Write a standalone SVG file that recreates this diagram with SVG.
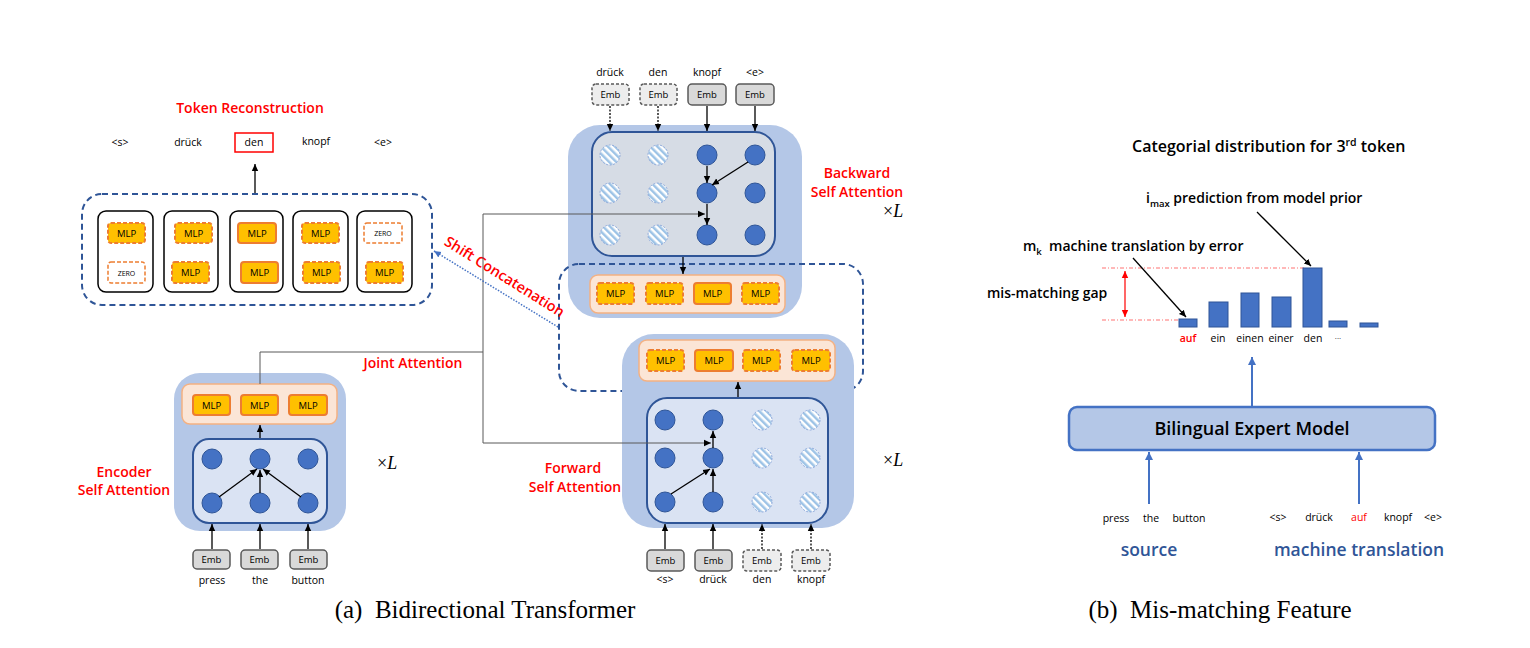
<svg xmlns="http://www.w3.org/2000/svg" width="1530" height="648" viewBox="0 0 1530 648">
<style>
text{font-family:"Open Sans","Liberation Sans",Arial,sans-serif;fill:#000}
.tok{font-size:10.5px;text-anchor:middle;font-weight:500}
.red{fill:#FF0000;font-size:14px;text-anchor:middle;font-weight:600}
.mlpt{font-size:9.5px;text-anchor:middle;font-weight:500}
.zt{font-size:7px;text-anchor:middle}
.mlp{fill:#FFC000;stroke:#ED7D31;stroke-width:2}
.mlpd{fill:#FFC000;stroke:#ED7D31;stroke-width:2;stroke-dasharray:4,2}
.zero{fill:#fff;stroke:#ED7D31;stroke-width:1.5;stroke-dasharray:4,2}
.bar{fill:#FBE5D6;stroke:#F4B183;stroke-width:1.5}
.outer{fill:#B4C7E7}
.inner{fill:#DAE3F3;stroke:#2F5597;stroke-width:2}
.innerg{fill:#D6DCE5;stroke:#2F5597;stroke-width:2}
.dot{fill:#4472C4;stroke:#2F5597;stroke-width:1}
.hat{fill:url(#hatch);stroke:#8FAADC;stroke-width:1;stroke-dasharray:2,1.5}
.emb{fill:#D9D9D9;stroke:#595959;stroke-width:1.5}
.embd{fill:#EDEDED;stroke:#595959;stroke-width:1.5;stroke-dasharray:3,2}
.embt{font-size:9.5px;text-anchor:middle;font-weight:500}
.blk{fill:#fff;stroke:#000;stroke-width:1.5}
.dash{fill:none;stroke:#2F5597;stroke-width:2;stroke-dasharray:6,4}
.ar{stroke:#000;stroke-width:1.3;fill:none;marker-end:url(#ah)}
.ard{stroke:#000;stroke-width:1.3;fill:none;stroke-dasharray:2,1.5;marker-end:url(#ah)}
.gl{stroke:#595959;stroke-width:1;fill:none}
.bl{stroke:#4472C4;stroke-width:2;fill:none;marker-end:url(#bh)}
.cb{fill:#4472C4;stroke:#2F5597;stroke-width:1}
.rt{font-size:14px;font-weight:600}
.xl{font-family:"Liberation Serif","Times New Roman",serif;font-size:18px}
.cap{font-family:"Liberation Serif","Times New Roman",serif;font-size:25px;text-anchor:middle}
</style>
<defs>
<pattern id="hatch" patternUnits="userSpaceOnUse" width="5" height="5" patternTransform="rotate(-45)"><rect width="5" height="5" fill="#fff"/><rect width="2.5" height="5" fill="#9DC3E6"/></pattern>
<marker id="ah" markerUnits="userSpaceOnUse" markerWidth="8" markerHeight="8" refX="7" refY="4" orient="auto"><path d="M0,0.8 L7,4 L0,7.2 z" fill="#000"/></marker>
<marker id="bh" markerUnits="userSpaceOnUse" markerWidth="10" markerHeight="10" refX="8" refY="5" orient="auto"><path d="M0,1 L8,5 L0,9 z" fill="#4472C4"/></marker>
<marker id="bdot" markerUnits="userSpaceOnUse" markerWidth="10" markerHeight="10" refX="7" refY="4" orient="auto"><path d="M0,0.8 L7,4 L0,7.2 z" fill="#4472C4"/></marker>
<marker id="rh" markerUnits="userSpaceOnUse" markerWidth="8" markerHeight="8" refX="7" refY="4" orient="auto-start-reverse"><path d="M0,0.8 L7,4 L0,7.2 z" fill="#FF0000"/></marker>
</defs>
<rect width="1530" height="648" fill="#fff"/>

<!-- Token reconstruction -->
<g id="token-reconstruction">
<text class="red" x="250" y="113">Token Reconstruction</text>
<text class="tok" x="120" y="146">&lt;s&gt;</text>
<text class="tok" x="188" y="146">drück</text>
<rect x="235" y="133" width="38" height="19" fill="none" stroke="#FF0000" stroke-width="1.5"/>
<text class="tok" x="254" y="146">den</text>
<text class="tok" x="316" y="145">knopf</text>
<text class="tok" x="383" y="146">&lt;e&gt;</text>
</g>

<g id="reconstruction-block">
<rect class="dash" x="82" y="194" width="350" height="111" rx="20"/>
<rect class="blk" x="98" y="211" width="55" height="81" rx="8"/>
<rect class="mlpd" x="108" y="223" width="37" height="20" rx="3"/><text class="mlpt" x="126.5" y="237">MLP</text>
<rect class="zero" x="108" y="262" width="37" height="21" rx="3"/><text class="zt" x="126.5" y="275.5">ZERO</text>
<rect class="blk" x="164" y="211" width="54" height="81" rx="8"/>
<rect class="mlpd" x="175" y="223" width="37" height="20" rx="3"/><text class="mlpt" x="193.5" y="237">MLP</text>
<rect class="mlpd" x="172" y="262" width="37" height="21" rx="3"/><text class="mlpt" x="190.5" y="276">MLP</text>
<rect class="blk" x="230" y="211" width="53" height="81" rx="8"/>
<rect class="mlp" x="238" y="223" width="38" height="20" rx="3"/><text class="mlpt" x="257" y="237">MLP</text>
<rect class="mlp" x="241" y="262" width="37" height="21" rx="3"/><text class="mlpt" x="259.5" y="276">MLP</text>
<rect class="blk" x="293" y="211" width="55" height="81" rx="8"/>
<rect class="mlpd" x="302" y="223" width="37" height="20" rx="3"/><text class="mlpt" x="320.5" y="237">MLP</text>
<rect class="mlpd" x="303" y="262" width="37" height="21" rx="3"/><text class="mlpt" x="321.5" y="276">MLP</text>
<rect class="blk" x="357" y="211" width="55" height="81" rx="8"/>
<rect class="zero" x="364" y="223" width="38" height="20" rx="3"/><text class="zt" x="383" y="236">ZERO</text>
<rect class="mlpd" x="366" y="262" width="37" height="21" rx="3"/><text class="mlpt" x="384.5" y="276">MLP</text>
</g>

<!-- Backward -->
<g id="backward">
<rect class="outer" x="568" y="125" width="234" height="193" rx="32"/>
<rect class="innerg" x="592" y="132" width="183" height="124" rx="20"/>
<circle class="hat" cx="610" cy="155" r="10"/><circle class="hat" cx="658" cy="155" r="10"/><circle class="dot" cx="707" cy="155" r="10"/><circle class="dot" cx="755" cy="155" r="10"/>
<circle class="hat" cx="610" cy="193" r="10"/><circle class="hat" cx="658" cy="193" r="10"/><circle class="dot" cx="707" cy="193" r="10"/><circle class="dot" cx="755" cy="193" r="10"/>
<circle class="hat" cx="610" cy="235" r="10"/><circle class="hat" cx="658" cy="235" r="10"/><circle class="dot" cx="707" cy="235" r="10"/><circle class="dot" cx="755" cy="235" r="10"/>
<rect class="bar" x="590" y="275" width="195" height="38" rx="8"/>
<rect class="mlpd" x="597" y="283" width="37" height="21" rx="3"/><text class="mlpt" x="615.5" y="297">MLP</text>
<rect class="mlpd" x="646" y="283" width="37" height="21" rx="3"/><text class="mlpt" x="664.5" y="297">MLP</text>
<rect class="mlp" x="694" y="283" width="37" height="21" rx="3"/><text class="mlpt" x="712.5" y="297">MLP</text>
<rect class="mlpd" x="742" y="283" width="37" height="21" rx="3"/><text class="mlpt" x="760.5" y="297">MLP</text>
<text class="red" x="857" y="178">Backward</text>
<text class="red" x="857" y="197">Self Attention</text>
<text class="xl" x="883" y="217">×<tspan font-style="italic">L</tspan></text>
</g>
<g id="backward-emb">
<text class="tok" x="610" y="76">drück</text><text class="tok" x="658" y="76">den</text><text class="tok" x="707" y="76">knopf</text><text class="tok" x="755" y="76">&lt;e&gt;</text>
<rect class="embd" x="592" y="84" width="37" height="21" rx="4"/><text class="embt" x="610.5" y="98">Emb</text>
<rect class="embd" x="640" y="84" width="37" height="21" rx="4"/><text class="embt" x="658.5" y="98">Emb</text>
<rect class="emb" x="688" y="84" width="38" height="21" rx="4"/><text class="embt" x="707" y="98">Emb</text>
<rect class="emb" x="736" y="84" width="38" height="21" rx="4"/><text class="embt" x="755" y="98">Emb</text>
</g>

<!-- Shift concatenation box -->
<g id="shift-concat">
<rect class="dash" x="559" y="264" width="304" height="127" rx="20"/>
<text class="red" transform="translate(502,281) rotate(32)" style="font-size:14.5px">Shift Concatenation</text>
</g>

<!-- Forward -->
<g id="forward">
<rect class="outer" x="622" y="334" width="232" height="194" rx="32"/>
<rect class="bar" x="639" y="340" width="196" height="41" rx="8"/>
<rect class="mlpd" x="647" y="350" width="37" height="21" rx="3"/><text class="mlpt" x="665.5" y="364">MLP</text>
<rect class="mlp" x="695" y="350" width="38" height="21" rx="3"/><text class="mlpt" x="714" y="364">MLP</text>
<rect class="mlpd" x="743" y="350" width="37" height="21" rx="3"/><text class="mlpt" x="761.5" y="364">MLP</text>
<rect class="mlpd" x="792" y="350" width="38" height="21" rx="3"/><text class="mlpt" x="811" y="364">MLP</text>
<rect class="inner" x="647" y="398" width="181" height="125" rx="20"/>
<circle class="dot" cx="665" cy="420" r="10"/><circle class="dot" cx="713" cy="420" r="10"/><circle class="hat" cx="762" cy="420" r="10"/><circle class="hat" cx="810" cy="420" r="10"/>
<circle class="dot" cx="665" cy="458" r="10"/><circle class="dot" cx="713" cy="458" r="10"/><circle class="hat" cx="762" cy="458" r="10"/><circle class="hat" cx="810" cy="458" r="10"/>
<circle class="dot" cx="665" cy="502" r="10"/><circle class="dot" cx="713" cy="502" r="10"/><circle class="hat" cx="762" cy="502" r="10"/><circle class="hat" cx="810" cy="502" r="10"/>
<text class="red" x="573" y="473">Forward</text>
<text class="red" x="575" y="492">Self Attention</text>
<text class="xl" x="883" y="466">×<tspan font-style="italic">L</tspan></text>
</g>
<g id="forward-emb">
<rect class="emb" x="647" y="550" width="37" height="21" rx="4"/><text class="embt" x="665.5" y="564">Emb</text>
<rect class="emb" x="695" y="550" width="37" height="21" rx="4"/><text class="embt" x="713.5" y="564">Emb</text>
<rect class="embd" x="743" y="550" width="38" height="21" rx="4"/><text class="embt" x="762" y="564">Emb</text>
<rect class="embd" x="792" y="550" width="38" height="21" rx="4"/><text class="embt" x="811" y="564">Emb</text>
<text class="tok" x="665" y="583">&lt;s&gt;</text><text class="tok" x="713" y="583">drück</text><text class="tok" x="762" y="583">den</text><text class="tok" x="811" y="583">knopf</text>
</g>

<!-- Encoder -->
<g id="encoder">
<rect class="outer" x="174" y="373" width="172" height="158" rx="26"/>
<rect class="bar" x="182" y="384" width="155" height="40" rx="8"/>
<rect class="mlp" x="193" y="395" width="37" height="20" rx="3"/><text class="mlpt" x="211.5" y="409">MLP</text>
<rect class="mlp" x="241" y="395" width="37" height="20" rx="3"/><text class="mlpt" x="259.5" y="409">MLP</text>
<rect class="mlp" x="289" y="395" width="38" height="20" rx="3"/><text class="mlpt" x="308" y="409">MLP</text>
<rect class="inner" x="193" y="439" width="134" height="84" rx="16"/>
<circle class="dot" cx="212" cy="459" r="10"/><circle class="dot" cx="260" cy="459" r="10"/><circle class="dot" cx="308" cy="459" r="10"/>
<circle class="dot" cx="212" cy="503" r="10"/><circle class="dot" cx="260" cy="503" r="10"/><circle class="dot" cx="308" cy="503" r="10"/>
<text class="red" x="124" y="477">Encoder</text>
<text class="red" x="124" y="495">Self Attention</text>
<text class="xl" x="377" y="469">×<tspan font-style="italic">L</tspan></text>
</g>
<g id="encoder-emb">
<rect class="emb" x="193" y="550" width="37" height="19" rx="4"/><text class="embt" x="211.5" y="563">Emb</text>
<rect class="emb" x="241" y="550" width="37" height="19" rx="4"/><text class="embt" x="259.5" y="563">Emb</text>
<rect class="emb" x="290" y="550" width="37" height="19" rx="4"/><text class="embt" x="308.5" y="563">Emb</text>
<text class="tok" x="212" y="584">press</text><text class="tok" x="260" y="584">the</text><text class="tok" x="308" y="584">button</text>
<text class="red" x="413" y="368">Joint Attention</text>
</g>

<!-- Connectors -->
<g id="connectors">
<path class="ar" d="M255,193 V164"/>
<path class="ard" d="M610,106 V131"/>
<path class="ard" d="M658,106 V131"/>
<path class="ar" d="M707,106 V131"/>
<path class="ar" d="M755,106 V131"/>
<path class="ar" d="M707,166 V183"/>
<path class="ar" d="M748,162 L712,185"/>
<path class="ar" d="M707,204 V225"/>
<path class="ar" d="M683,257 V274"/>
<path class="ar" d="M738,397 V382"/>
<path class="ar" d="M665,549 V524"/>
<path class="ar" d="M713,549 V524"/>
<path class="ard" d="M762,549 V524"/>
<path class="ard" d="M811,549 V524"/>
<path class="ar" d="M713,492 V469"/>
<path class="ar" d="M671,494 L710,469"/>
<path class="ar" d="M713,448 V431"/>
<path class="ar" d="M212,549 V524"/>
<path class="ar" d="M260,549 V524"/>
<path class="ar" d="M308,549 V524"/>
<path class="ar" d="M260,438 V425"/>
<path class="ar" d="M219,497 L257,469"/>
<path class="ar" d="M260,493 V470"/>
<path class="ar" d="M301,497 L263,469"/>
<path class="gl" d="M260,384 V352 H483 M483,214 V443"/>
<path d="M483,214 H705" stroke="#595959" stroke-width="1" fill="none" marker-end="url(#ah)"/>
<path d="M483,443 H711" stroke="#595959" stroke-width="1" fill="none" marker-end="url(#ah)"/>
<path d="M558,327 L434,251" stroke="#4472C4" stroke-width="1.5" stroke-dasharray="1.5,1.5" fill="none" marker-end="url(#bdot)"/>
</g>

<!-- Right panel -->
<g id="chart">
<text class="rt" x="1132" y="152" style="font-size:16px">Categorial distribution for 3<tspan font-size="10.5" dy="-6">rd</tspan><tspan dy="6"> token</tspan></text>
<text class="rt" x="1146" y="203">i<tspan font-size="9.5" dy="4">max</tspan><tspan dy="-4"> prediction from model prior</tspan></text>
<text class="rt" x="1023" y="251">m<tspan font-size="9.5" dy="4">k</tspan><tspan dy="-4" xml:space="preserve">  machine translation by error</tspan></text>
<text class="rt" x="987" y="298">mis-matching gap</text>
<path d="M1102,268 H1304 M1102,320 H1180" stroke="#FF0000" stroke-width="0.8" stroke-dasharray="4,2,1,2" fill="none" opacity="0.7"/>
<path d="M1125,271 V317" stroke="#FF0000" stroke-width="1.2" fill="none" marker-start="url(#rh)" marker-end="url(#rh)"/>
<rect class="cb" x="1179" y="319" width="18" height="8"/>
<rect class="cb" x="1209" y="302" width="19" height="25"/>
<rect class="cb" x="1241" y="293" width="18" height="34"/>
<rect class="cb" x="1272" y="297" width="19" height="30"/>
<rect class="cb" x="1303" y="268" width="19" height="59"/>
<rect class="cb" x="1329" y="321" width="18" height="6"/>
<rect class="cb" x="1360" y="323" width="18" height="4"/>
<text class="tok" x="1188" y="342" style="fill:#FF0000;font-weight:600">auf</text>
<text class="tok" x="1218" y="342">ein</text>
<text class="tok" x="1250" y="342">einen</text>
<text class="tok" x="1281" y="342">einer</text>
<text class="tok" x="1313" y="342">den</text>
<text class="tok" x="1338" y="341" style="font-size:8px">···</text>
<path class="ar" d="M1133,258 L1186,317"/>
<path class="ar" d="M1257,212 L1311,266"/>
</g>

<g id="bilingual">
<rect x="1069" y="407" width="366" height="43" rx="8" fill="#B4C7E7" stroke="#4472C4" stroke-width="2.5"/>
<text x="1252" y="435" style="font-size:18px;text-anchor:middle;font-weight:600">Bilingual Expert Model</text>
</g>
<g id="inputs">
<text class="tok" x="1116" y="522">press</text>
<text class="tok" x="1151" y="522">the</text>
<text class="tok" x="1189" y="522">button</text>
<text class="tok" x="1278" y="521">&lt;s&gt;</text>
<text class="tok" x="1319" y="521">drück</text>
<text class="tok" x="1359" y="521" style="fill:#FF0000">auf</text>
<text class="tok" x="1398" y="521">knopf</text>
<text class="tok" x="1433" y="521">&lt;e&gt;</text>
<text x="1149" y="556" style="font-size:17.5px;text-anchor:middle;fill:#2F5597;font-weight:600">source</text>
<text x="1359" y="556" style="font-size:17.5px;text-anchor:middle;fill:#2F5597;font-weight:600">machine translation</text>
</g>
<g id="bconnectors">
<path class="bl" d="M1252,406 V357"/>
<path class="bl" d="M1149,504 V452"/>
<path class="bl" d="M1359,504 V452"/>
</g>

<text class="cap" x="485" y="618" xml:space="preserve">(a)  Bidirectional Transformer</text>
<text class="cap" x="1220" y="618" xml:space="preserve">(b)  Mis-matching Feature</text>
</svg>
